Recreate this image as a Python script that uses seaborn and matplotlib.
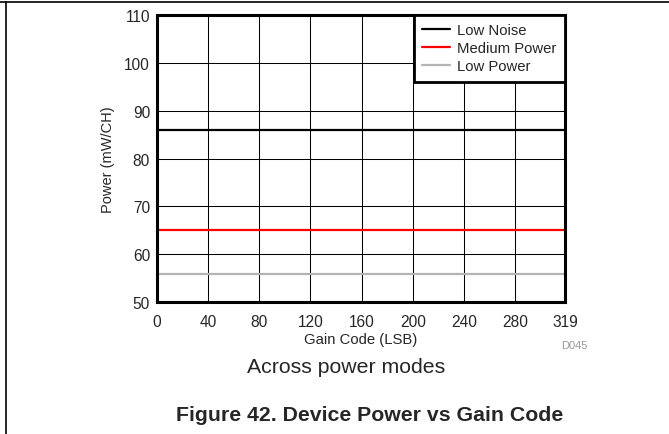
import numpy as np
import pandas as pd
import matplotlib
matplotlib.use("Agg")
import matplotlib.pyplot as plt
import seaborn as sns

# data (power is flat over gain code)
gain_code = [0, 40, 80, 120, 160, 200, 240, 280, 319]
low_noise = [86.0, 86.0, 86.0, 86.0, 86.0, 86.0, 86.0, 86.0, 86.0]
medium_power = [65.0, 65.0, 65.0, 65.0, 65.0, 65.0, 65.0, 65.0, 65.0]
low_power = [55.8, 55.8, 55.8, 55.8, 55.8, 55.8, 55.8, 55.8, 55.8]
modes = ["Low Noise", "Medium Power", "Low Power"]
mode_colors = ["#000000", "#ff0000", "#b4b4b4"]
x_ticks = [0, 40, 80, 120, 160, 200, 240, 280, 319]
y_ticks = [50, 60, 70, 80, 90, 100, 110]

df = pd.DataFrame({
    "Gain Code": gain_code * 3,
    "Power": low_noise + medium_power + low_power,
    "Mode": [modes[0]] * len(gain_code) + [modes[1]] * len(gain_code) + [modes[2]] * len(gain_code),
})

sns.set_style("white")
plt.rcParams["font.family"] = ["Liberation Sans", "DejaVu Sans"]

fig = plt.figure(figsize=(6.69, 4.35), dpi=100)
ax = fig.add_axes([157 / 669, 1 - 303 / 435, 408 / 669, 287 / 435])

sns.lineplot(data=df, x="Gain Code", y="Power", hue="Mode", hue_order=modes,
             palette=mode_colors, linewidth=1.6, ax=ax, zorder=3)

ax.set_xlim(0, 319)
ax.set_ylim(50, 110)
ax.set_xticks(x_ticks)
ax.set_yticks(y_ticks)
ax.grid(True, color="black", linewidth=0.75, zorder=0)
ax.tick_params(axis="both", labelsize=11.2, length=0)
ax.tick_params(axis="x", pad=8.5)
ax.tick_params(axis="y", pad=5)
for sp in ax.spines.values():
    sp.set_linewidth(2.2)
    sp.set_color("black")
    sp.set_zorder(5)

ax.set_xlabel("Gain Code (LSB)", fontsize=10.7, labelpad=2)
ax.set_ylabel("Power (mW/CH)", fontsize=10.5, labelpad=7)

leg = ax.legend(loc="upper right", borderaxespad=0, fancybox=False, fontsize=10.7,
                handlelength=1.9, labelspacing=0.28, borderpad=0.55, handletextpad=0.5)
leg.get_frame().set_edgecolor("black")
leg.get_frame().set_linewidth(2.0)
leg.get_frame().set_alpha(1)
leg.set_zorder(6)

fig.text(574 / 669, 1 - 346 / 435, "D045", fontsize=8, color="#999999", ha="center", va="center")
fig.text(346 / 669, 1 - 368 / 435, "Across power modes", fontsize=15.3, ha="center", va="center")
fig.text(370 / 669, 1 - 416 / 435, "Figure 42. Device Power vs Gain Code", fontsize=15.3,
         fontweight="bold", ha="center", va="center")

# page border lines (top and left)
fig.add_artist(plt.Line2D([0, 1], [1 - 3 / 435, 1 - 3 / 435], color="black", linewidth=1.2,
                          transform=fig.transFigure))
fig.add_artist(plt.Line2D([6 / 669, 6 / 669], [0, 1 - 3 / 435], color="black", linewidth=1.2,
                          transform=fig.transFigure))

fig.savefig("out.png", dpi=100)
